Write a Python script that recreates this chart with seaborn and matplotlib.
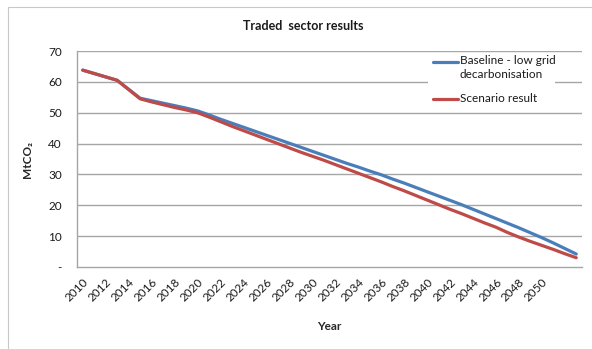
import matplotlib
matplotlib.use("Agg")
import matplotlib.pyplot as plt
from matplotlib.patches import Rectangle
from matplotlib.lines import Line2D
import seaborn as sns
import pandas as pd

# Annual traded-sector emissions (MtCO2), one value per category on the year axis
baseline = [63.8, 62.7, 61.6, 60.5, 57.6, 54.7, 53.9, 53.1, 52.3, 51.5,
            50.6, 49.3, 47.9, 46.6, 45.3, 44.0, 42.7, 41.4, 40.1, 38.8,
            37.5, 36.2, 34.9, 33.6, 32.4, 31.1, 29.9, 28.5, 27.2, 25.8,
            24.4, 23.0, 21.6, 20.2, 18.7, 17.2, 15.7, 14.2, 12.7, 11.1,
            9.5, 7.8, 6.0, 4.2]
scenario = [63.8, 62.7, 61.6, 60.5, 57.5, 54.5, 53.5, 52.6, 51.7, 50.9,
            50.0, 48.6, 47.1, 45.6, 44.2, 42.8, 41.4, 40.0, 38.6, 37.2,
            35.9, 34.6, 33.2, 31.8, 30.4, 29.0, 27.6, 26.1, 24.7, 23.2,
            21.7, 20.2, 18.7, 17.3, 15.8, 14.3, 12.9, 11.2, 9.7, 8.3,
            7.0, 5.7, 4.3, 3.0]
series_names = ["Baseline - low grid\ndecarbonisation", "Scenario result"]
series_colors = ["#4A7EBB", "#BE4B48"]
year_labels = [str(y) for y in range(2010, 2051, 2)]
y_ticks = [0, 10, 20, 30, 40, 50, 60, 70]
y_labels = ["-", "10", "20", "30", "40", "50", "60", "70"]

positions = list(range(len(baseline)))
df = pd.DataFrame({
    "pos": positions * 2,
    "value": baseline + scenario,
    "series": [series_names[0]] * len(baseline) + [series_names[1]] * len(scenario),
})

sns.set_style("white")
plt.rcParams["font.family"] = ["Lato", "DejaVu Sans"]
plt.rcParams["text.color"] = "#1a1a1a"

W, H = 592, 349
fig = plt.figure(figsize=(W / 100, H / 100), dpi=100)

# chart-area frame
fig.patches.append(Rectangle((8 / W, -0.2), 1.2, 1.2 - 7 / H,
                             transform=fig.transFigure, fill=False,
                             edgecolor="#c8c8c8", linewidth=0.8))

ax = fig.add_axes([77 / W, (H - 267) / H, 505 / W, 216 / H])
sns.lineplot(data=df, x="pos", y="value", hue="series", palette=series_colors,
             linewidth=2.3, ax=ax, legend=False, zorder=3)

grid_col = "#a6a6a6"
tick_fs = 8.5
ax.set_ylim(0, 70)
ax.set_xlim(-0.5, len(baseline) - 0.5)
ax.set_yticks(y_ticks)
ax.set_yticklabels(y_labels)
for v in y_ticks[1:]:
    ax.axhline(v, color=grid_col, linewidth=1.0, zorder=1)

# tick marks on category boundaries, labels on every second category
ax.set_xticks([p - 0.5 for p in range(len(baseline) + 1)])
ax.set_xticklabels([])
ax.set_xticks(list(range(0, 2 * len(year_labels), 2)), minor=True)
ax.set_xticklabels(year_labels, minor=True, rotation=45, ha="right",
                   va="top", rotation_mode="anchor")
ax.tick_params(axis="x", which="major", length=5, width=0.8, color=grid_col, direction="out")
ax.tick_params(axis="x", which="minor", length=0, pad=7, labelsize=tick_fs,
               labelcolor="#1a1a1a")
ax.tick_params(axis="y", length=4, width=0.8, color=grid_col, direction="out",
               labelsize=tick_fs, pad=7, labelcolor="#1a1a1a")

for side in ["top", "right"]:
    ax.spines[side].set_visible(False)
for side in ["left", "bottom"]:
    ax.spines[side].set_color(grid_col)
    ax.spines[side].set_linewidth(1.0)

ax.set_xlabel("Year", fontsize=8.5, fontweight="bold", labelpad=12)
ax.set_ylabel("MtCO₂", fontsize=8.5, fontweight="bold", labelpad=11)
fig.text(303 / W, 1 - 26 / H, "Traded  sector results", ha="center", va="center",
         fontsize=9, fontweight="bold")

# legend
fig.patches.append(Rectangle((428 / W, 1 - 112 / H), 127 / W, 58 / H,
                             transform=fig.transFigure, facecolor="white",
                             edgecolor="none", zorder=5))
for line_y, col in zip([62, 99], series_colors):
    fig.add_artist(Line2D([433 / W, 458 / W], [1 - line_y / H] * 2,
                          color=col, linewidth=2.3, zorder=6))
fig.text(460 / W, 1 - 55 / H, series_names[0], ha="left", va="top",
         fontsize=8.5, linespacing=1.35, zorder=6)
fig.text(460 / W, 1 - 99 / H, series_names[1], ha="left", va="center",
         fontsize=8.5, zorder=6)

fig.savefig("out.png", dpi=100)
